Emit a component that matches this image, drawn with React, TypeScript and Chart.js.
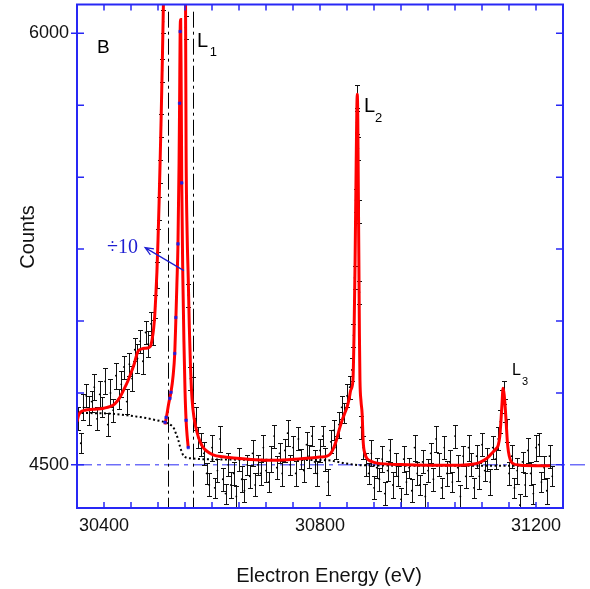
import React, { useEffect, useRef } from "react";
import { Chart, registerables } from "chart.js";
Chart.register(...registerables);

// ---------- axis ranges / ticks ----------
const xRange = [30350, 31250];
const yRange = [4350, 6100];
const xLabeled = [30400, 30800, 31200];
const yLabeled = [4500, 6000];
const xMinorStep = 50;
const yMinorStep = 250;
const baseLevel = 4500;
const divBounds = [30518.5, 30565.7];

// ---------- measured spectrum (counts with error bars) ----------
const rawE = [
  30352, 30357, 30362, 30367, 30372, 30377, 30382, 30387, 30392, 30397,
  30402, 30407, 30412, 30417, 30422, 30427, 30432, 30437, 30442, 30447,
  30452, 30457, 30462, 30467, 30472, 30477, 30482, 30487, 30491, 30495,
  30498, 30500, 30502, 30504, 30506, 30508, 30510,
  30551, 30556, 30560, 30565, 30570, 30574, 30580,
  30585, 30590, 30595, 30600, 30605, 30610, 30615, 30620, 30625, 30630,
  30635, 30640, 30645, 30650, 30655, 30660, 30665, 30670, 30675, 30680,
  30685, 30690, 30695, 30700, 30705, 30710, 30715, 30720, 30725, 30730,
  30735, 30740, 30745, 30750, 30755, 30760, 30765, 30770, 30775, 30780,
  30785, 30790, 30795, 30800, 30805, 30810, 30815, 30820, 30825, 30830,
  30835, 30840, 30845, 30850, 30855,
  30859, 30862, 30864, 30866, 30868, 30869, 30871, 30872, 30873, 30876, 30880,
  30885, 30890, 30895, 30900, 30905, 30910, 30915, 30920, 30925, 30930,
  30935, 30940, 30945, 30950, 30955, 30960, 30965, 30970, 30975, 30980,
  30985, 30990, 30995, 31000, 31005, 31010, 31015, 31020, 31025, 31030,
  31035, 31040, 31045, 31050, 31055, 31060, 31065, 31070, 31075, 31080,
  31085, 31090, 31095, 31100, 31105, 31110, 31115, 31120, 31125,
  31130, 31134, 31137, 31140, 31143, 31146, 31150,
  31155, 31160, 31165, 31170, 31175, 31180, 31185, 31190, 31195, 31200,
  31205, 31210, 31215, 31220, 31225, 31230,
];
const rawC = [
  4660, 4575, 4700, 4740, 4690, 4720, 4770, 4660, 4745, 4700,
  4790, 4640, 4750, 4690, 4810, 4730, 4780, 4840, 4720, 4850,
  4800, 4900, 4870, 4930, 4860, 4960, 4920, 4990, 4960, 5050,
  5160, 5280, 5390, 5520, 5680, 5870, 6040,
  6020, 5090, 4800, 4760, 4660, 4595, 4570,
  4540, 4470, 4430, 4560, 4420, 4480, 4590, 4450, 4400, 4500,
  4430, 4470, 4390, 4520, 4450, 4410, 4500, 4460, 4540, 4430,
  4500, 4470, 4560, 4480, 4440, 4520, 4600, 4490, 4540, 4470,
  4550, 4610, 4500, 4560, 4470, 4590, 4520, 4480, 4570, 4530,
  4600, 4510, 4470, 4550, 4600, 4520, 4440, 4580, 4620, 4560,
  4640, 4700, 4680, 4740, 4770,
  4830, 4950, 5150, 5420, 5690, 5780, 5600, 5380, 5100, 4630, 4560,
  4500, 4470, 4540, 4420, 4490, 4450, 4520, 4400, 4480, 4550,
  4430, 4500, 4460, 4380, 4520, 4440, 4490, 4410, 4560, 4470,
  4430, 4510, 4390, 4480, 4540, 4450, 4590, 4500, 4420, 4560,
  4470, 4510, 4440, 4600, 4490, 4390, 4530, 4460, 4560, 4500,
  4420, 4530, 4460, 4570, 4480, 4520, 4440, 4560, 4520,
  4590, 4650, 4720, 4750, 4690, 4620, 4470,
  4530, 4420, 4480, 4360, 4510, 4430, 4550, 4470, 4400, 4560,
  4570, 4440, 4490, 4410, 4530, 4460,
];
const rawErr = [
  40, 35, 45, 40, 50, 35, 45, 40, 45, 35,
  45, 40, 50, 40, 45, 35, 45, 40, 45, 40,
  45, 40, 50, 40, 45, 40, 45, 40, 45, 40,
  45, 40, 40, 40, 40, 40, 40,
  40, 40, 40, 45, 40, 35, 40,
  40, 35, 40, 45, 35, 40, 45, 40, 35, 40,
  45, 40, 35, 40, 45, 40, 35, 40, 45, 40,
  35, 40, 45, 40, 35, 45, 40, 40, 35, 45,
  40, 45, 35, 40, 45, 40, 35, 40, 45, 40,
  35, 40, 45, 40, 35, 40, 45, 40, 35, 40,
  45, 40, 35, 40, 40,
  40, 40, 40, 40, 40, 40, 40, 40, 40, 40, 40,
  40, 35, 45, 40, 35, 40, 45, 40, 35, 40,
  45, 40, 35, 40, 45, 40, 35, 40, 45, 40,
  35, 40, 45, 40, 35, 40, 45, 40, 35, 40,
  45, 40, 35, 40, 45, 40, 35, 40, 45, 40,
  35, 40, 45, 40, 35, 40, 45, 40, 35,
  40, 40, 40, 40, 40, 40, 40,
  40, 35, 45, 40, 35, 40, 45, 40, 35, 45,
  40, 35, 40, 45, 40, 35,
];

// ---------- fitted curve (raw scale); null = clipped gap above the frame ----------
const fitE = [
  30350, 30353, 30357, 30365, 30380, 30400, 30412, 30420, 30428, 30435,
  30445, 30455, 30463, 30470, 30480, 30486, 30489, 30492, 30494, 30496,
  30498, 30500, 30502, 30504, 30506, 30508, 30510, 30512, 30530,
  30549, 30551, 30552, 30554, 30556, 30558, 30560, 30563, 30567, 30572,
  30577, 30583, 30590, 30602, 30620, 30640, 30680, 30710, 30740, 30770,
  30800, 30813, 30820, 30826, 30831, 30836, 30841, 30846, 30850, 30854,
  30857, 30861, 30863, 30865, 30867, 30869, 30870, 30871, 30872, 30873,
  30874, 30876, 30878, 30880, 30883, 30887, 30895, 30906, 30950, 31000,
  31060, 31085, 31095, 31105, 31112, 31120, 31126, 31130, 31133, 31135,
  31137, 31139, 31141, 31143, 31145, 31147, 31149, 31152, 31156, 31170,
  31226,
];
const fitC = [
  4650, 4672, 4684, 4690, 4693, 4697, 4703, 4712, 4730, 4755,
  4795, 4845, 4895, 4903, 4906, 4912, 4935, 4975, 5020, 5090,
  5170, 5280, 5410, 5560, 5720, 5900, 6100, 6350, null,
  6400, 6100, 5600, 5300, 5150, 4980, 4850, 4730, 4660, 4615,
  4585, 4562, 4548, 4535, 4528, 4524, 4518, 4516, 4518, 4522,
  4527, 4530, 4540, 4562, 4590, 4625, 4655, 4680, 4700, 4730,
  4760, 4794, 4950, 5210, 5550, 5788, 5700, 5450, 5210, 4950,
  4794, 4720, 4679, 4580, 4540, 4522, 4512, 4506, 4501, 4499,
  4499, 4503, 4508, 4518, 4528, 4544, 4556, 4568, 4600, 4650,
  4710, 4766, 4745, 4700, 4640, 4580, 4545, 4520, 4506, 4499,
  4497,
];

// ---------- L1 region divided by 10 ----------
const divFitE = [
  30513, 30516, 30520, 30524, 30528, 30531, 30533, 30535, 30537, 30539,
  30540, 30541, 30542, 30543, 30544, 30546, 30548, 30550, 30552, 30554, 30556,
];
const divFitC = [
  4640, 4670, 4715, 4752, 4810, 4887, 5000, 5130, 5268, 5550,
  5757, 6006, 6048, 5800, 5480, 5150, 4930, 4760, 4655, 4600, 4560,
];
const divE = [30513, 30515, 30522, 30524, 30531, 30533, 30537, 30540, 30541, 30544, 30552, 30556];
const divC = [4648, 4665, 4731, 4752, 4887, 5012, 5268, 5757, 6006, 5480, 4655, 4560];

// ---------- background (dotted) ----------
const bgE = [
  30350, 30400, 30443, 30480, 30495, 30505, 30513, 30524, 30530, 30533,
  30537, 30541, 30544, 30547, 30553, 30565, 30580, 30650, 30750, 30813,
  30845, 30874, 31000, 31230,
];
const bgC = [
  4680, 4679, 4672, 4662, 4656, 4652, 4648, 4638, 4625, 4610,
  4590, 4562, 4545, 4532, 4525, 4522, 4520, 4518, 4517, 4516,
  4506, 4499, 4497, 4497,
];

const BLUE = "rgb(40,40,245)";
const SANS = "'Liberation Sans', Arial, sans-serif";
const SERIF = "'Liberation Serif', 'Times New Roman', serif";

const xy = (xs: number[], ys: (number | null)[]) => xs.map((x, i) => ({ x, y: ys[i] }));

const overlay = {
  id: "overlay",
  beforeDatasetsDraw(chart: any) {
    const { ctx, chartArea: a, scales } = chart;
    const x = scales.x, y = scales.y;
    ctx.save();
    // blue dash-dot baseline (runs past the right frame)
    const yb = y.getPixelForValue(baseLevel);
    ctx.strokeStyle = BLUE;
    ctx.lineWidth = 1;
    ctx.setLineDash([15, 5, 4, 5]);
    ctx.beginPath();
    ctx.moveTo(a.left, yb);
    ctx.lineTo(a.right + 22, yb);
    ctx.stroke();

    ctx.beginPath();
    ctx.rect(a.left, a.top, a.right - a.left, a.bottom - a.top);
    ctx.clip();
    // vertical dash-dot markers of the ÷10 region
    ctx.strokeStyle = "#000";
    ctx.setLineDash([16, 4, 3, 4]);
    for (const e of divBounds) {
      const px = Math.round(x.getPixelForValue(e)) + 0.5;
      ctx.beginPath();
      ctx.moveTo(px, y.getPixelForValue(6075));
      ctx.lineTo(px, a.bottom);
      ctx.stroke();
    }
    ctx.setLineDash([]);
    // error bars
    ctx.strokeStyle = "#111";
    ctx.lineWidth = 1;
    rawE.forEach((e, i) => {
      const px = Math.round(x.getPixelForValue(e)) + 0.5;
      const y1 = Math.round(y.getPixelForValue(rawC[i] - rawErr[i])) + 0.5;
      const y2 = Math.round(y.getPixelForValue(rawC[i] + rawErr[i])) + 0.5;
      ctx.beginPath();
      ctx.moveTo(px, y1); ctx.lineTo(px, y2);
      ctx.moveTo(px - 2.5, y1); ctx.lineTo(px + 2.5, y1);
      ctx.moveTo(px - 2.5, y2); ctx.lineTo(px + 2.5, y2);
      ctx.stroke();
    });
    ctx.restore();
  },
  afterDraw(chart: any) {
    const { ctx, chartArea: a, scales } = chart;
    const x = scales.x, y = scales.y;
    ctx.save();
    // frame
    ctx.strokeStyle = BLUE;
    ctx.lineWidth = 2;
    ctx.strokeRect(a.left, a.top, a.right - a.left, a.bottom - a.top);
    // ticks
    ctx.lineWidth = 1.5;
    ctx.beginPath();
    for (const t of x.ticks) {
      const v = t.value;
      if (v <= xRange[0] || v >= xRange[1] || v % xMinorStep !== 0) continue;
      const px = x.getPixelForValue(v);
      ctx.moveTo(px, a.bottom); ctx.lineTo(px, a.bottom - 6);
      ctx.moveTo(px, a.top); ctx.lineTo(px, a.top + 6);
    }
    for (const t of y.ticks) {
      const v = t.value;
      if (v <= yRange[0] || v >= yRange[1] || v % yMinorStep !== 0) continue;
      const py = y.getPixelForValue(v);
      ctx.moveTo(a.left, py); ctx.lineTo(a.left + 7, py);
      ctx.moveTo(a.right, py); ctx.lineTo(a.right - 7, py);
      if (yLabeled.includes(v)) { ctx.moveTo(a.left - 6, py); ctx.lineTo(a.left, py); }
    }
    ctx.stroke();

    // axis titles
    ctx.fillStyle = "#111";
    ctx.font = `20px ${SANS}`;
    ctx.textAlign = "center";
    ctx.textBaseline = "alphabetic";
    ctx.fillText("Electron Energy (eV)", 329, 582);
    ctx.save();
    ctx.translate(34, 237);
    ctx.rotate(-Math.PI / 2);
    ctx.fillText("Counts", 0, 0);
    ctx.restore();

    // annotations
    ctx.textAlign = "left";
    const txt = (s: string, e: number, c: number, size: number, font = SANS, color = "#000") => {
      ctx.font = `${size}px ${font}`;
      ctx.fillStyle = color;
      ctx.fillText(s, x.getPixelForValue(e), y.getPixelForValue(c));
    };
    txt("B", 30387, 5930, 19);
    txt("L", 30572, 5954, 20);
    txt("1", 30596, 5920, 13);
    txt("L", 30881.5, 5726, 20);
    txt("2", 30902, 5691, 13);
    txt("L", 31155.5, 4811, 16);
    txt("3", 31174, 4776, 11);
    txt("÷10", 30405.6, 5237, 20, SERIF, "rgb(30,30,210)");

    // arrow
    const x0 = x.getPixelForValue(30548), y0 = y.getPixelForValue(5175);
    const x1 = x.getPixelForValue(30476), y1 = y.getPixelForValue(5255);
    const ang = Math.atan2(y0 - y1, x0 - x1);
    ctx.strokeStyle = "rgb(30,30,210)";
    ctx.lineWidth = 1.2;
    ctx.beginPath();
    ctx.moveTo(x0, y0); ctx.lineTo(x1, y1);
    ctx.moveTo(x1 + 9 * Math.cos(ang - 0.4), y1 + 9 * Math.sin(ang - 0.4));
    ctx.lineTo(x1, y1);
    ctx.lineTo(x1 + 9 * Math.cos(ang + 0.4), y1 + 9 * Math.sin(ang + 0.4));
    ctx.stroke();
    ctx.restore();
  },
};

export default function App() {
  const ref = useRef<HTMLCanvasElement | null>(null);
  useEffect(() => {
    if (!ref.current) return;
    const chart = new Chart(ref.current, {
      type: "line",
      data: {
        datasets: [
          {
            label: "fit",
            data: xy(fitE, fitC),
            borderColor: "rgb(255,0,0)",
            borderWidth: 3,
            pointRadius: 0,
            spanGaps: false,
            cubicInterpolationMode: "monotone",
            order: 0,
          },
          {
            label: "fit ÷10",
            data: xy(divFitE, divFitC),
            borderColor: "rgb(255,0,0)",
            borderWidth: 3,
            pointRadius: 0,
            cubicInterpolationMode: "monotone",
            order: 0,
          },
          {
            label: "data ÷10",
            data: xy(divE, divC),
            showLine: false,
            pointStyle: "rect",
            pointRadius: 1.8,
            pointBackgroundColor: "rgb(30,30,230)",
            pointBorderColor: "rgb(30,30,230)",
            pointBorderWidth: 0.5,
            order: -1,
          },
          {
            label: "background",
            data: xy(bgE, bgC),
            borderColor: "#000",
            borderWidth: 2,
            borderDash: [2, 2.5],
            pointRadius: 0,
            cubicInterpolationMode: "monotone",
            order: 1,
          },
          {
            label: "data",
            data: xy(rawE, rawC),
            showLine: false,
            pointRadius: 0.9,
            pointBackgroundColor: "#000",
            pointBorderColor: "#000",
            pointBorderWidth: 0,
            order: 2,
          },
        ],
      },
      options: {
        responsive: false,
        animation: false,
        events: [],
        layout: { padding: { left: 0, top: 3, right: 27, bottom: 0 } },
        plugins: { legend: { display: false }, tooltip: { enabled: false } },
        scales: {
          x: {
            type: "linear",
            min: xRange[0],
            max: xRange[1],
            grid: { display: false, drawTicks: false },
            border: { display: false },
            ticks: {
              stepSize: xMinorStep,
              autoSkip: false,
              maxRotation: 0,
              padding: 7,
              color: "#111",
              font: { size: 18, family: SANS },
              callback: (v: any) => (xLabeled.includes(Number(v)) ? String(v) : ""),
            },
            afterFit: (s: any) => { s.height = 81; s.paddingLeft = 0; s.paddingRight = 0; },
          },
          y: {
            type: "linear",
            min: yRange[0],
            max: yRange[1],
            grid: { display: false, drawTicks: false },
            border: { display: false },
            ticks: {
              stepSize: 50,
              autoSkip: false,
              padding: 8,
              color: "#111",
              font: { size: 18, family: SANS },
              callback: (v: any) => (yLabeled.includes(Number(v)) ? String(v) : ""),
            },
            afterFit: (s: any) => { s.width = 77; s.paddingTop = 0; s.paddingBottom = 0; },
          },
        },
      },
      plugins: [overlay],
    } as any);
    return () => chart.destroy();
  }, []);
  return (
    <div style={{ position: "absolute", left: 0, top: 0, width: 590, height: 589, background: "#fff" }}>
      <canvas ref={ref} width={590} height={589} />
    </div>
  );
}
